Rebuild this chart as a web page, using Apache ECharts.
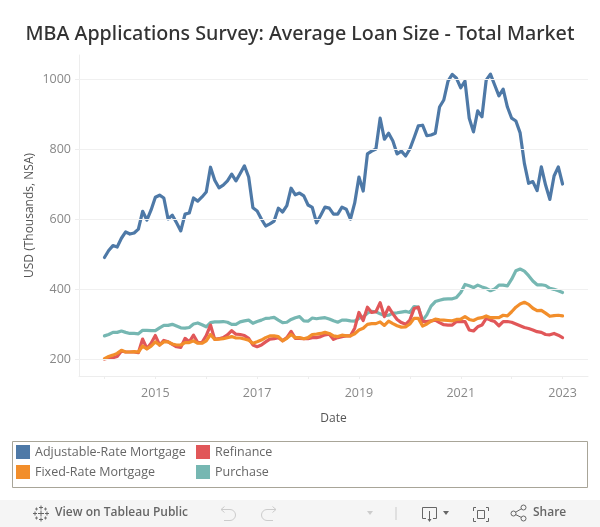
<!DOCTYPE html>
<html>
<head>
<meta charset="utf-8">
<style>html,body{margin:0;padding:0;background:#fff}#chart{width:600px;height:527px}</style>
<script src="https://cdn.jsdelivr.net/npm/echarts@6/dist/echarts.min.js"></script>
</head>
<body>
<div id="chart"></div>
<script>
// monthly readings, Jan 2014 to Jan 2023
var adjustable = [490,510,524,520,545,563,557,560,571,622,597,626,662,668,660,600,611,589,566,614,617,660,651,663,677,748,711,689,697,709,728,709,730,752,720,632,623,600,580,586,594,631,620,638,688,669,674,666,640,633,589,611,634,631,614,614,634,628,600,646,720,680,786,794,800,888,828,845,823,786,794,780,800,832,866,868,838,840,845,920,940,994,1013,1002,975,994,888,849,909,892,997,1014,983,952,971,920,888,880,846,759,702,707,681,749,697,656,723,749,700];
var fixedRate = [201,207,211,216,225,220,220,221,220,237,229,237,249,240,249,249,243,240,240,247,247,252,245,245,252,270,256,257,258,261,264,260,260,257,254,245,249,254,261,266,266,264,252,259,270,261,261,258,261,270,271,273,276,273,266,264,268,266,266,272,283,288,299,301,301,306,296,308,301,295,291,292,300,316,316,294,300,308,314,312,311,310,309,313,314,321,313,310,316,318,323,318,318,318,325,323,335,348,357,362,356,345,338,339,331,322,324,325,323];
var refinance = [200,203,204,207,223,220,220,220,218,257,230,245,267,240,253,249,242,235,233,259,249,268,247,247,267,297,256,258,261,269,281,271,270,267,259,240,235,240,249,257,258,261,252,261,279,259,259,258,258,261,261,264,269,271,256,261,264,266,266,288,333,310,348,333,335,361,321,348,329,313,304,299,311,344,348,307,307,309,311,304,298,297,297,307,307,307,283,280,292,297,316,311,307,295,307,307,305,300,295,290,287,283,278,276,270,269,273,268,261];
var purchase = [266,270,276,276,280,276,273,273,272,282,282,281,281,289,296,296,299,294,289,288,290,300,303,298,292,304,306,306,307,305,299,299,306,309,311,302,307,311,316,317,319,311,304,305,313,318,321,309,308,317,315,317,318,314,309,305,311,311,309,308,316,321,331,336,335,329,324,325,331,332,334,336,333,350,348,310,326,351,364,368,371,372,372,376,390,413,409,404,411,406,402,395,400,411,411,409,428,452,457,451,438,423,412,412,410,402,399,395,390];

var seriesNames = ['Adjustable-Rate Mortgage','Fixed-Rate Mortgage','Refinance','Purchase'];
var seriesColors = ['#4e79a7','#f28e2b','#e15759','#76b7b2'];
var yTicks = [200,400,600,800,1000];
var labelYears = ['2015','2017','2019','2021','2023'];

// axis runs half a year past the data on both sides
var axisMonths = [];
for (var k = 0; k <= 120; k++) {
  var yr = 2013 + Math.floor((k + 6) / 12);
  var mo = (k + 6) % 12 + 1;
  axisMonths.push(yr + '-' + (mo < 10 ? '0' + mo : mo));
}
var dataMonths = axisMonths.slice(6, 6 + adjustable.length);

function pairs(values) {
  return values.map(function (v, i) { return [dataMonths[i], v]; });
}
function isJanuary(index, value) {
  return value.slice(5) === '01';
}
function isLabelYear(index, value) {
  return isJanuary(index, value) && labelYears.indexOf(value.slice(0, 4)) >= 0;
}

var uiFont = '"Open Sans"';
var axisCol = '#ededed';

function lineSeries(idx, values) {
  return {
    name: seriesNames[idx],
    type: 'line',
    data: pairs(values),
    symbol: 'none',
    showSymbol: false,
    animation: false,
    itemStyle: {color: seriesColors[idx]},
    lineStyle: {color: seriesColors[idx], width: 3.2, join: 'round', cap: 'round'}
  };
}

// toolbar icons, graphic has no path type so these are plain shapes
function pl(points, stroke) {
  return {type: 'polyline', silent: true, shape: {points: points}, style: {fill: null, stroke: stroke, lineWidth: 1}};
}
function tri(points, fill) {
  return {type: 'polygon', silent: true, shape: {points: points}, style: {fill: fill}};
}
function arc(cx, cy, r, a0, a1, stroke) {
  return {type: 'arc', silent: true, shape: {cx: cx, cy: cy, r: r, startAngle: a0, endAngle: a1, clockwise: true}, style: {fill: null, stroke: stroke, lineWidth: 1}};
}
function dot(cx, cy, r, stroke) {
  return {type: 'circle', silent: true, shape: {cx: cx, cy: cy, r: r}, style: {fill: '#f5f5f5', stroke: stroke, lineWidth: 1}};
}
function plus(cx, cy, r, stroke) {
  return [pl([[cx - r, cy], [cx + r, cy]], stroke), pl([[cx, cy - r], [cx, cy + r]], stroke)];
}
var logo = [].concat(
  plus(41, 513.5, 3, '#666'), plus(41, 507.5, 2, '#666'), plus(41, 519.5, 2, '#666'),
  plus(35, 513.5, 2, '#666'), plus(47, 513.5, 2, '#666'),
  plus(36.5, 509, 1.5, '#777'), plus(45.5, 509, 1.5, '#777'), plus(36.5, 518, 1.5, '#777'), plus(45.5, 518, 1.5, '#777')
);

var toolbar = [
  {type: 'rect', silent: true, z: -2, shape: {x: 0, y: 500, width: 600, height: 27}, style: {fill: '#f5f5f5'}},
  {type: 'text', silent: true, x: 55, y: 513, style: {text: 'View on Tableau Public', font: '600 12px ' + uiFont, fill: '#666', textVerticalAlign: 'middle'}},
  // undo
  pl([[224.5, 506.5], [221, 509.5], [224.5, 512.5]], '#ccc'),
  pl([[221, 509.5], [230, 509.5]], '#ccc'),
  arc(230, 515, 5.5, -Math.PI / 2, Math.PI / 2, '#ccc'),
  pl([[230, 520.5], [224, 520.5]], '#ccc'),
  // redo
  pl([[272.5, 506.5], [276, 509.5], [272.5, 512.5]], '#ccc'),
  pl([[276, 509.5], [267, 509.5]], '#ccc'),
  arc(267, 515, 5.5, Math.PI / 2, Math.PI * 1.5, '#ccc'),
  pl([[267, 520.5], [273, 520.5]], '#ccc'),
  tri([[367, 511], [373, 511], [370, 515]], '#ccc'),
  {type: 'rect', silent: true, shape: {x: 395.5, y: 507, width: 1, height: 13}, style: {fill: '#ccc'}},
  // download
  pl([[426, 518.5], [422.5, 518.5], [422.5, 507.5], [436.5, 507.5], [436.5, 518.5], [433, 518.5]], '#666'),
  pl([[429.5, 511], [429.5, 521]], '#666'),
  tri([[427.5, 519], [431.5, 519], [429.5, 522]], '#666'),
  tri([[443, 511], [449, 511], [446, 515]], '#666'),
  // fullscreen
  pl([[476, 507.5], [473.5, 507.5], [473.5, 511]], '#666'),
  pl([[486, 507.5], [488.5, 507.5], [488.5, 511]], '#666'),
  pl([[476, 521.5], [473.5, 521.5], [473.5, 518]], '#666'),
  pl([[486, 521.5], [488.5, 521.5], [488.5, 518]], '#666'),
  pl([[477.5, 510.5], [484.5, 510.5], [484.5, 518.5], [477.5, 518.5], [477.5, 510.5]], '#666'),
  // share
  pl([[513.5, 513.5], [523.5, 507.5]], '#666'),
  pl([[513.5, 513.5], [523.5, 518.5]], '#666'),
  dot(513.5, 513.5, 2.5, '#666'), dot(523.5, 507.5, 2.5, '#666'), dot(523.5, 518.5, 2.5, '#666'),
  {type: 'text', silent: true, x: 533, y: 513, style: {text: 'Share', font: '600 12px ' + uiFont, fill: '#666', textVerticalAlign: 'middle'}},
  // legend box
  {type: 'rect', silent: true, z: -1, shape: {x: 12.5, y: 441.5, width: 575, height: 46}, style: {fill: null, stroke: '#a8a598', lineWidth: 1}}
].concat(logo);

function legendBlock(left, names) {
  return {
    left: left, top: 445,
    orient: 'vertical',
    padding: 0,
    itemWidth: 14, itemHeight: 14, itemGap: 6,
    icon: 'rect',
    selectedMode: false,
    data: names,
    textStyle: {fontFamily: uiFont, fontSize: 12.5, color: '#666'}
  };
}

var chart = echarts.init(document.getElementById('chart'));
chart.setOption({
  animation: false,
  backgroundColor: '#fff',
  title: {
    text: 'MBA Applications Survey: Average Loan Size - Total Market',
    left: 'center', top: 19,
    textStyle: {fontFamily: '"Noto Sans"', fontSize: 19.7, fontWeight: 500, color: '#333'}
  },
  grid: {left: 79, right: 12, top: 55, height: 321},
  legend: [
    legendBlock(16, seriesNames.slice(0, 2)),
    legendBlock(196, seriesNames.slice(2))
  ],
  xAxis: {
    type: 'category',
    data: axisMonths,
    boundaryGap: false,
    name: 'Date',
    nameLocation: 'middle',
    nameGap: 37,
    nameTextStyle: {fontFamily: uiFont, fontSize: 12, color: '#555'},
    axisLine: {lineStyle: {color: axisCol}},
    axisTick: {length: 3, lineStyle: {color: axisCol}, interval: isJanuary},
    axisLabel: {
      fontFamily: uiFont, fontSize: 12.5, color: '#888', margin: 11,
      interval: isLabelYear,
      formatter: function (v) { return v.slice(0, 4); }
    },
    splitLine: {show: false}
  },
  yAxis: {
    type: 'value',
    min: 151.4,
    max: 1068.6,
    name: 'USD (Thousands, NSA)',
    nameLocation: 'middle',
    nameGap: 43,
    nameMoveOverlap: false,
    nameTextStyle: {fontFamily: uiFont, fontSize: 12, color: '#555'},
    axisLine: {show: true, lineStyle: {color: axisCol}},
    axisTick: {show: true, length: 4, lineStyle: {color: axisCol}, customValues: yTicks},
    axisLabel: {
      fontFamily: uiFont, fontSize: 12.5, color: '#888', margin: 8, customValues: yTicks,
      formatter: function (v) { return String(v); }
    },
    splitLine: {show: false}
  },
  series: [
    // horizontal gridlines at the y ticks
    {
      type: 'line', data: [], silent: true,
      markLine: {
        silent: true, symbol: 'none', animation: false, label: {show: false},
        lineStyle: {color: '#f0f0f0', width: 1, type: 'solid'},
        data: yTicks.map(function (t) { return {yAxis: t}; })
      }
    },
    lineSeries(3, purchase),
    lineSeries(2, refinance),
    lineSeries(1, fixedRate),
    lineSeries(0, adjustable)
  ],
  graphic: toolbar
});
</script>
</body>
</html>
